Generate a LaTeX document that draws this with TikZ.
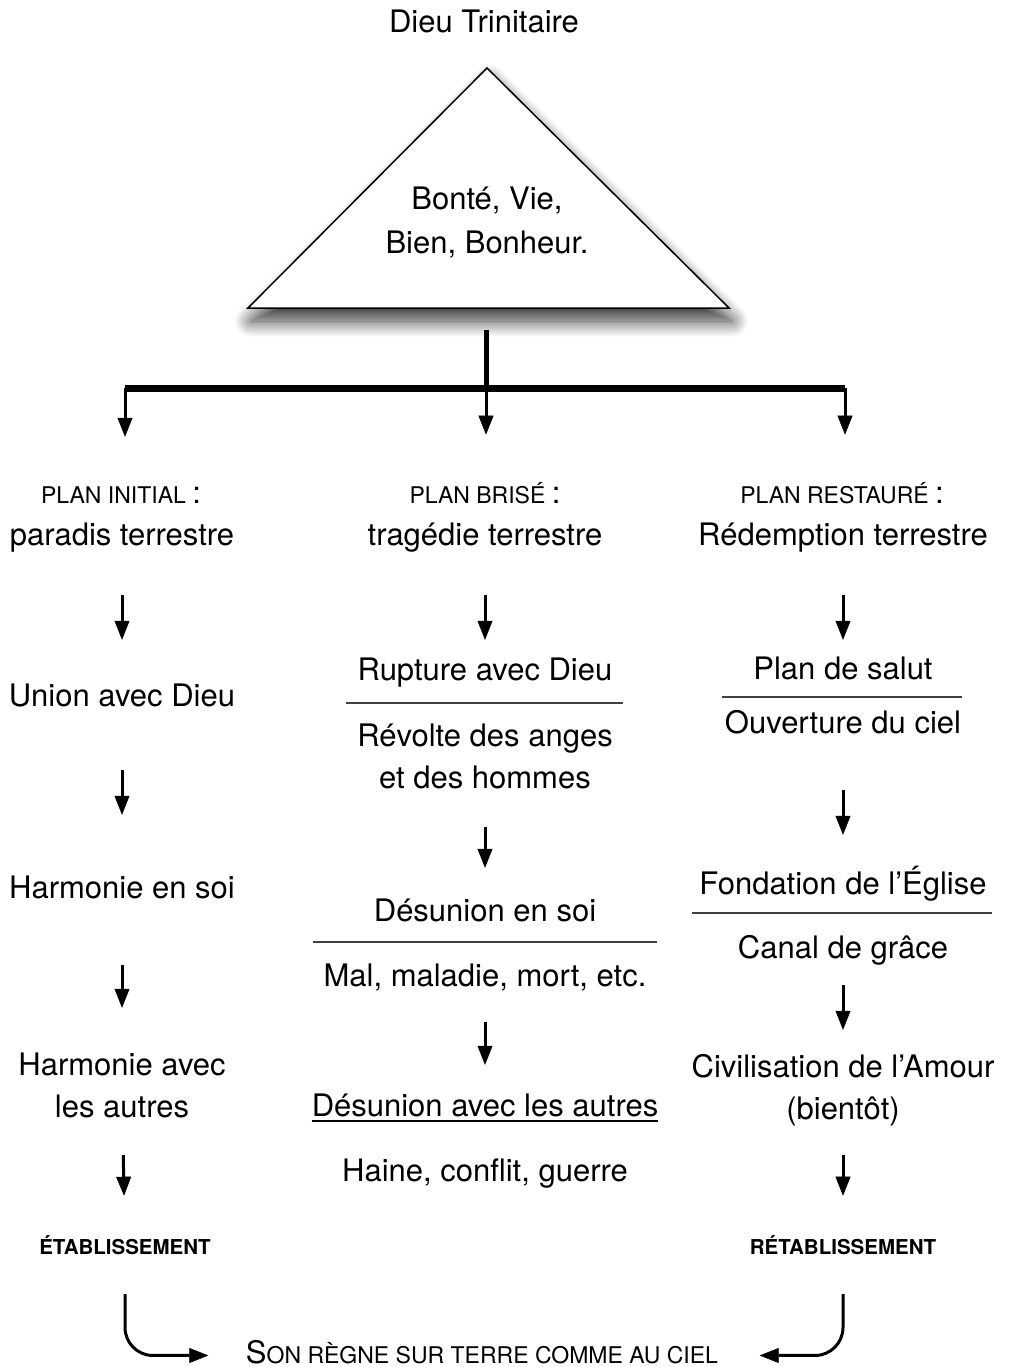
\documentclass[tikz,border=0pt]{standalone}
\usepackage{fontspec}
\setmainfont{TeX Gyre Heros}
\usetikzlibrary{arrows.meta,shadows.blur}
\newcommand\bigf{\fontsize{31}{42}\selectfont}
\newcommand\scf{\fontsize{23}{27}\selectfont}
\newcommand\bdf{\fontsize{20.5}{24}\selectfont\bfseries}
\newcommand\tl[1]{\begin{tabular}[t]{@{}c@{}}#1\end{tabular}}
\begin{document}
\begin{tikzpicture}[x=1pt,y=-1pt,
  big/.style={font=\bigf, inner sep=0pt, anchor=base},
  sc/.style={font=\scf, inner sep=0pt, anchor=base},
  bd/.style={font=\bdf, inner sep=0pt, anchor=base},
  tipstyle/.style={-{Triangle[length=19pt,width=15pt,fill=black,line width=0.5pt]}},
  arr/.style 2 args={line width=3pt, tipstyle, shorten <=#1, shorten >=#2},
  curv/.style 2 args={line width=3pt, rounded corners=28pt, tipstyle, shorten <=#1, shorten >=#2},
  sepline/.style={line width=1.3pt, black!75},
  barline/.style={line width=7pt, line cap=square},
  stemline/.style={line width=5pt},
  tri/.style={draw, line width=1.5pt, fill=white, line join=miter,
    blur shadow={shadow xshift=3pt, shadow yshift=-13pt, shadow blur radius=16pt, shadow blur steps=14, shadow opacity=80}}
]
\useasboundingbox (0,0) rectangle (1010,1367);

% top
\node[big] (dieu) at (484,33) {\tl{Dieu Trinitaire}};
\coordinate (apex) at (487,68);
\coordinate (tL) at (248,308);
\coordinate (tR) at (729,308);
\coordinate (tb) at (486,308);
\filldraw[tri] (apex) -- (tL) -- (tR) -- cycle;
\node[big, font=\fontsize{31}{44}\selectfont] (qual) at (487,209) {\tl{Bonté, Vie,\\Bien, Bonheur.}};

\coordinate (jn) at (486,388);
\coordinate (bl) at (125,388);
\coordinate (br) at (845,388);
\draw[stemline, shorten <=22pt] (tb) -- (jn);
\draw[barline] (bl) -- (br);

% headers
\node[sc] (h1) at (121,503) {\tl{PLAN INITIAL {\bigf :}}};
\node[big] (t1) at (122,545) {\tl{paradis terrestre}};
\node[sc] (h2) at (485,503) {\tl{PLAN BRISÉ {\bigf :}}};
\node[big] (t2) at (485,545) {\tl{tragédie terrestre}};
\node[sc] (h3) at (842,503) {\tl{PLAN RESTAURÉ {\bigf :}}};
\node[big] (t3) at (843,545) {\tl{Rédemption terrestre}};

\draw[arr={0pt}{47.1pt}] (bl) -- (bl |- h1.north);
\draw[arr={0pt}{47.1pt}] (jn) -- (jn |- h2.north);
\draw[arr={0pt}{47.1pt}] (br) -- (br |- h3.north);

% left column
\node[big] (l1) at (122,706) {\tl{Union avec Dieu}};
\node[big] (l2) at (122,898) {\tl{Harmonie en soi}};
\node[big] (l3) at (122,1075) {\tl{Harmonie avec\\les autres}};
\node[bd] (l4) at (125,1254) {\tl{ÉTABLISSEMENT}};

\draw[arr={37.4pt}{36.6pt}] (t1) -- (l1);
\draw[arr={51.4pt}{53.6pt}] (l1) -- (l2);
\draw[arr={54.4pt}{37.6pt}] (l2) -- (l3);
\draw[arr={25.4pt}{39.2pt}] (l3) -- (l4);

% middle column
\node[big] (m1) at (485,680) {\tl{Rupture avec Dieu}};
\node[big] (m2) at (485,746) {\tl{Révolte des anges\\et des hommes}};
\node[big] (m3) at (485,921) {\tl{Désunion en soi}};
\node[big] (m4) at (485,986) {\tl{Mal, maladie, mort, etc.}};
\node[big] (m5) at (485,1116) {\tl{Désunion avec les autres}};
\node[big] (m6) at (485,1181) {\tl{Haine, conflit, guerre}};

\draw[sepline] (346,703) -- (623,703);
\draw[sepline] (313,942) -- (657,942);
\draw[line width=1.5pt] ([yshift=-5pt]m5.base west) -- ([yshift=-5pt]m5.base east);

\draw[arr={37.4pt}{10.6pt}] (t2) -- (m1);
\draw[arr={26.4pt}{23.6pt}] (m2) -- (m3);
\draw[arr={23.4pt}{21.6pt}] (m4) -- (m5);

% right column
\node[big] (r1) at (843,679) {\tl{Plan de salut}};
\node[big] (r2) at (843,733) {\tl{Ouverture du ciel}};
\node[big] (r3) at (843,894) {\tl{Fondation de l’Église}};
\node[big] (r4) at (843,958) {\tl{Canal de grâce}};
\node[big] (r5) at (843,1077) {\tl{Civilisation de l’Amour\\(bientôt)}};
\node[bd] (r6) at (843,1254) {\tl{RÉTABLISSEMENT}};

\draw[sepline] (722,697) -- (962,697);
\draw[sepline] (692,913) -- (992,913);

\draw[arr={37.4pt}{9.6pt}] (t3) -- (r1);
\draw[arr={44.4pt}{29.6pt}] (r2) -- (r3);
\draw[arr={14.4pt}{17.6pt}] (r4) -- (r5);
\draw[arr={23.4pt}{39.2pt}] (r5) -- (r6);

% bottom
\node[sc] (regne) at (482,1363) {\tl{{\fontsize{31}{37}\selectfont S}ON RÈGNE SUR TERRE COMME AU CIEL}};
\draw[curv={32.8pt}{37.5pt}] (l4.south) |- (regne.west);
\draw[curv={32.8pt}{41.5pt}] (r6.south) |- (regne.east);
\end{tikzpicture}
\end{document}
